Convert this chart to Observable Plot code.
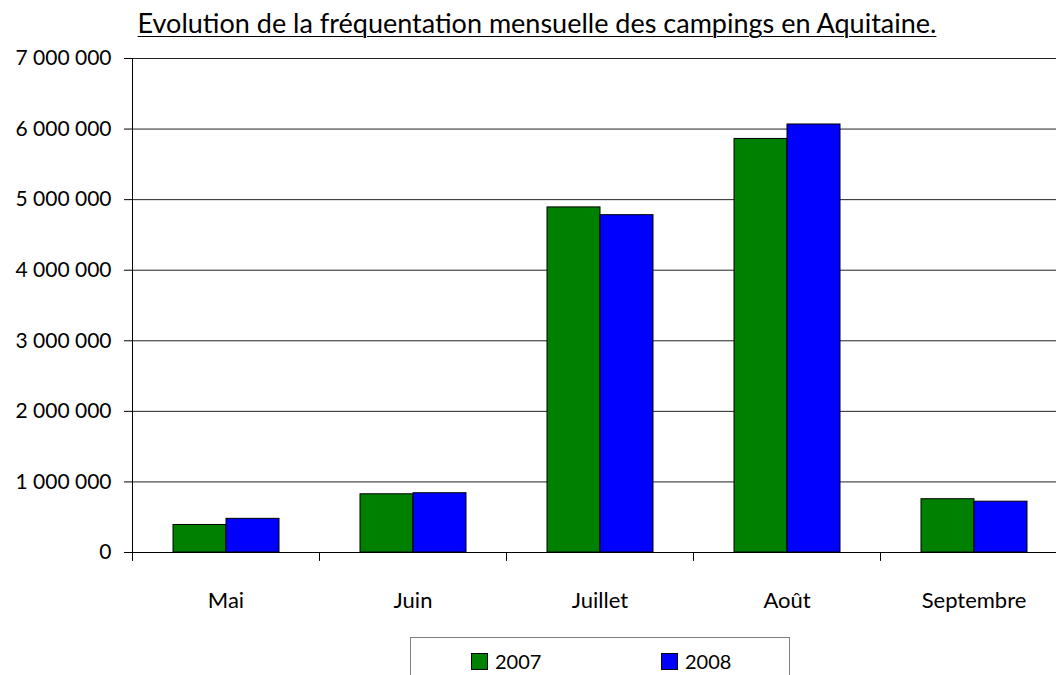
<!DOCTYPE html>
<html>
<head>
<meta charset="utf-8">
<script src="https://cdn.jsdelivr.net/npm/d3@7"></script>
<script src="https://cdn.jsdelivr.net/npm/@observablehq/plot@0.6"></script>
<style>
  html, body { margin: 0; padding: 0; background: #fff; }
  #page { position: relative; width: 1056px; height: 675px; overflow: hidden; font-family: Lato, "DejaVu Sans", sans-serif; color: #000; }
  #title { position: absolute; left: 0; top: 9px; width: 1074px; text-align: center; font-size: 27px; line-height: 1; text-decoration: underline; text-underline-offset: 3px; text-decoration-thickness: 1px; white-space: nowrap; }
  #chart { position: absolute; left: 0; top: 40px; width: 1069px; }
  #chart svg { max-width: none; }
  #legend { position: absolute; left: 410px; top: 637px; width: 378px; height: 60px; border: 1px solid #808080; background: #fff; }
  .item { position: absolute; top: 13px; font-size: 20px; line-height: 20px; white-space: nowrap; }
  .sw { display: inline-block; width: 15px; height: 15px; border: 1px solid #000; vertical-align: -1px; margin-right: 7px; }
</style>
</head>
<body>
<div id="page">
  <div id="title">Evolution de la fréquentation mensuelle des campings en Aquitaine.</div>
  <div id="chart"></div>
  <div id="legend"></div>
</div>
<script>
const months = ["Mai", "Juin", "Juillet", "Août", "Septembre"];
const years = ["2007", "2008"];
const values2007 = [390000, 825000, 4890000, 5860000, 755000];
const values2008 = [477000, 840000, 4780000, 6065000, 720000];
const yTicks = [0, 1000000, 2000000, 3000000, 4000000, 5000000, 6000000, 7000000];
const colors = ["#008000", "#0000ff"];

const data = [];
months.forEach((m, i) => {
  data.push({month: m, year: years[0], value: values2007[i]});
  data.push({month: m, year: years[1], value: values2008[i]});
});

const fmt = d3.formatLocale({decimal: ",", thousands: " ", grouping: [3], currency: ["", " €"]}).format(",");

const plot = Plot.plot({
  width: 1069,
  height: 597,
  marginLeft: 131,
  marginRight: 1,
  marginTop: 18,
  marginBottom: 85,
  style: {fontFamily: "Lato, 'DejaVu Sans', sans-serif", fontSize: "21px", color: "#000", background: "transparent", maxWidth: "none"},
  fx: {domain: months, padding: 0, label: null},
  x: {domain: years, paddingInner: 0, paddingOuter: 0.75, axis: null},
  y: {domain: [0, 7000000], label: null},
  color: {domain: years, range: colors},
  marks: [
    Plot.gridY(yTicks, {stroke: "#222", strokeOpacity: 1}),
    Plot.barY(data, {fx: "month", x: "year", y: "value", fill: "year", stroke: "#000", strokeWidth: 1}),
    Plot.ruleY([0], {stroke: "#000"}),
    Plot.frame({anchor: "left", fx: ["Mai"], stroke: "#000"}),
    Plot.vector([0], {
      frameAnchor: "bottom-left", length: 8, rotate: 180, anchor: "start", stroke: "#000", strokeWidth: 1,
      shape: {draw(context, l) { context.moveTo(0, 0); context.lineTo(0, -l); }}
    }),
    Plot.axisY(yTicks, {tickSize: 8, tickPadding: 13, tickFormat: fmt, fontSize: 21, stroke: "#000", label: null}),
    Plot.axisFx({anchor: "bottom", tickSize: 0, tickPadding: 40, fontSize: 22, label: null})
  ]
});
document.getElementById("chart").appendChild(plot);

const legend = document.getElementById("legend");
const legendX = [60, 250];
years.forEach((y, i) => {
  const item = document.createElement("div");
  item.className = "item";
  item.style.left = legendX[i] + "px";
  const sw = document.createElement("span");
  sw.className = "sw";
  sw.style.background = colors[i];
  item.appendChild(sw);
  item.appendChild(document.createTextNode(y));
  legend.appendChild(item);
});
</script>
</body>
</html>
